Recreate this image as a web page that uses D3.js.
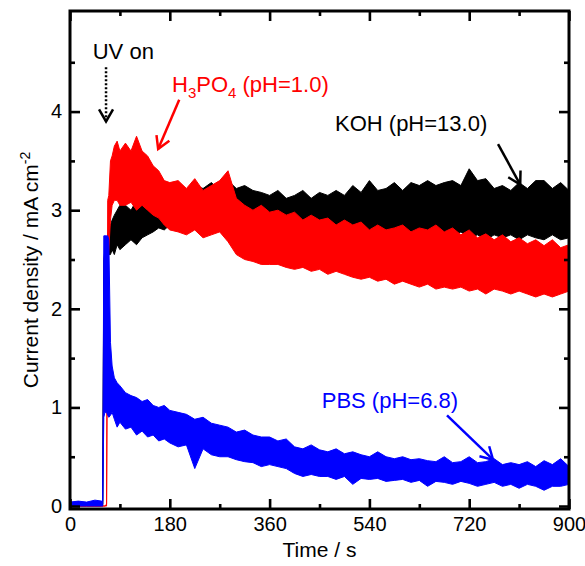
<!DOCTYPE html>
<html>
<head>
<meta charset="utf-8">
<script src="https://cdn.jsdelivr.net/npm/d3@7"></script>
<style>
  body { margin: 0; background: #fff; }
  text { font-family: Arial, "Liberation Sans", sans-serif; }
</style>
</head>
<body>
<div id="chart"></div>
<script>
// time of each sample (s), shared by the three runs
var time = [0, 15, 30, 45, 57, 59, 61, 63, 66, 68, 70, 73, 76, 80, 85, 90,
  100, 110, 120, 130, 140, 150, 160, 170, 180,
  195, 210, 225, 240, 255, 270, 285, 300, 315, 330, 345, 360,
  375, 390, 405, 420, 435, 450, 465, 480, 495, 510, 525, 540,
  555, 570, 585, 600, 615, 630, 645, 660, 675, 690, 705, 720,
  735, 750, 765, 780, 795, 810, 825, 840, 855, 870, 885, 900];

// upper / lower edge of the noisy current band (mA cm-2)
var kohHigh = [0.02, 0.02, 0.02, 0.02, 0.02, 0.02, 2.5, 2.6, 2.7, 2.75, 2.8, 2.85, 2.9, 2.95, 3.0, 3.05,
  3.05, 3.0, 3.1, 3.05, 3.15, 3.1, 3.15, 3.2, 3.15,
  3.2, 3.18, 3.25, 3.22, 3.28, 3.2, 3.3, 3.22, 3.25, 3.2, 3.18, 3.15,
  3.2, 3.12, 3.15, 3.2, 3.12, 3.18, 3.15, 3.2, 3.15, 3.25, 3.18, 3.3,
  3.2, 3.22, 3.28, 3.2, 3.28, 3.25, 3.3, 3.25, 3.28, 3.3, 3.25, 3.42,
  3.3, 3.32, 3.22, 3.25, 3.2, 3.28, 3.22, 3.3, 3.3, 3.22, 3.28, 3.2];
var kohLow = [0, 0, 0, 0, 0, 0, 2.3, 2.4, 2.5, 2.55, 2.55, 2.55, 2.6, 2.55, 2.65, 2.6,
  2.65, 2.7, 2.65, 2.72, 2.75, 2.78, 2.82, 2.8, 2.85,
  2.85, 2.85, 2.85, 2.88, 2.85, 2.85, 2.8, 2.82, 2.8, 2.78, 2.8, 2.75,
  2.78, 2.72, 2.75, 2.72, 2.78, 2.72, 2.75, 2.7, 2.75, 2.72, 2.75, 2.72,
  2.75, 2.7, 2.78, 2.72, 2.75, 2.7, 2.78, 2.72, 2.75, 2.72, 2.78, 2.72,
  2.75, 2.7, 2.75, 2.72, 2.75, 2.7, 2.75, 2.72, 2.7, 2.75, 2.7, 2.72];

var h3po4High = [0, 0, 0, 0, 0, 0, 0, 0, 0.02, 3.1, 3.15, 3.5, 3.55, 3.65, 3.7, 3.6,
  3.68, 3.6, 3.75, 3.6, 3.55, 3.45, 3.4, 3.3, 3.28,
  3.3, 3.22, 3.32, 3.2, 3.25, 3.3, 3.4, 3.12, 3.05, 3.0, 3.05, 2.98,
  3.0, 2.95, 2.98, 2.9, 2.95, 2.9, 2.92, 2.85, 2.9, 2.85, 2.88, 2.8,
  2.85, 2.8, 2.82, 2.85, 2.78, 2.82, 2.8, 2.85, 2.78, 2.82, 2.75, 2.8,
  2.72, 2.76, 2.7, 2.75, 2.68, 2.72, 2.66, 2.7, 2.64, 2.7, 2.62, 2.65];
var h3po4Low = [0, 0, 0, 0, 0, 0, 0, 0, 0, 2.45, 2.6, 2.9, 3.05, 3.1, 3.1, 3.05,
  3.05, 3.08, 3.0, 3.05, 3.0, 2.95, 2.92, 2.85, 2.8,
  2.78, 2.75, 2.8, 2.72, 2.75, 2.78, 2.68, 2.55, 2.5, 2.48, 2.45, 2.45,
  2.45, 2.42, 2.4, 2.42, 2.38, 2.4, 2.35, 2.38, 2.35, 2.32, 2.3, 2.32,
  2.28, 2.3, 2.25, 2.28, 2.25, 2.22, 2.25, 2.2, 2.22, 2.2, 2.22, 2.18,
  2.2, 2.15, 2.2, 2.18, 2.15, 2.18, 2.15, 2.12, 2.15, 2.12, 2.15, 2.18];

var pbsHigh = [0.04, 0.05, 0.04, 0.06, 0.05, 0.05, 2.74, 2.74, 2.74, 2.74, 2.7, 1.66, 1.42, 1.3, 1.25, 1.22,
  1.15, 1.12, 1.1, 1.06, 1.08, 1.02, 1.0, 1.02, 0.97,
  0.95, 0.93, 0.88, 0.9, 0.84, 0.82, 0.8, 0.75, 0.77, 0.72, 0.7, 0.7,
  0.66, 0.68, 0.6, 0.58, 0.62, 0.57, 0.55, 0.58, 0.53, 0.55, 0.52, 0.5,
  0.55, 0.5, 0.48, 0.5, 0.47, 0.48, 0.46, 0.45, 0.5, 0.44, 0.45, 0.5,
  0.44, 0.45, 0.48, 0.42, 0.44, 0.42, 0.45, 0.4, 0.46, 0.42, 0.48, 0.4];
var pbsLow = [0, 0, 0, 0, 0, 0, 0.9, 0.95, 0.95, 0.92, 0.9, 0.92, 0.95, 0.88, 0.8, 0.85,
  0.78, 0.8, 0.72, 0.76, 0.7, 0.72, 0.66, 0.68, 0.64,
  0.6, 0.62, 0.38, 0.58, 0.52, 0.5, 0.5, 0.47, 0.45, 0.44, 0.4, 0.42,
  0.4, 0.38, 0.33, 0.3, 0.32, 0.3, 0.3, 0.27, 0.3, 0.22, 0.28, 0.27,
  0.28, 0.25, 0.26, 0.27, 0.24, 0.26, 0.2, 0.25, 0.24, 0.22, 0.25, 0.23,
  0.2, 0.22, 0.24, 0.2, 0.22, 0.18, 0.22, 0.2, 0.16, 0.2, 0.2, 0.22];

var xTicks = [0, 180, 360, 540, 720, 900];
var xMinor = [90, 270, 450, 630, 810];
var yTicks = [0, 1, 2, 3, 4];
var yMinor = [0.5, 1.5, 2.5, 3.5, 4.5];

function make_chart(){
  var width = 585,
    height = 566;
  var left = 70, right = 569, top = 11, bottom = 509;

  var svg = d3.select("#chart")
    .append("svg")
    .attr("width", width)
    .attr("height", height);

  // scales
  var x = d3.scaleLinear().domain([0, 900]).range([left, right]);
  var y = d3.scaleLinear().domain([-0.03, 5.02]).range([bottom, top]);

  svg.append("clipPath")
    .attr("id", "plotclip")
    .append("rect")
    .attr("x", left).attr("y", top)
    .attr("width", right - left).attr("height", bottom - top);

  // the three bands, black first so red and blue sit on top
  var runs = [
    {high: kohHigh, low: kohLow, color: "#000000"},
    {high: h3po4High, low: h3po4Low, color: "#ff0000"},
    {high: pbsHigh, low: pbsLow, color: "#0000ff"}
  ];

  var area = d3.area()
    .x(function(d) { return x(d.t); })
    .y0(function(d) { return y(d.lo); })
    .y1(function(d) { return y(d.hi); });

  runs.forEach(function(r){
    var pts = time.map(function(t, i){ return {t: t, hi: r.high[i], lo: r.low[i]}; });
    svg.append("path")
      .datum(pts)
      .attr("clip-path", "url(#plotclip)")
      .attr("d", area)
      .style("fill", r.color)
      .style("stroke", r.color)
      .style("stroke-width", 1)
      .style("stroke-linejoin", "miter");
  });

  // axes with inward ticks on all four sides
  function styleAxis(g){
    g.select(".domain").remove();
    g.selectAll("line").style("stroke", "#000").style("stroke-width", 2.6);
    g.selectAll("text").style("font-size", "20px").style("fill", "#000")
      .style("font-family", "Arial, 'Liberation Sans', sans-serif");
  }

  svg.append("g").attr("transform", "translate(0," + bottom + ")")
    .call(d3.axisBottom(x).tickValues(xTicks).tickSizeInner(-10).tickSizeOuter(0).tickPadding(8))
    .call(styleAxis);
  svg.append("g").attr("transform", "translate(0," + bottom + ")")
    .call(d3.axisBottom(x).tickValues(xMinor).tickSizeInner(-5).tickSizeOuter(0).tickFormat(""))
    .call(styleAxis);
  svg.append("g").attr("transform", "translate(0," + top + ")")
    .call(d3.axisTop(x).tickValues(xTicks).tickSizeInner(-10).tickSizeOuter(0).tickFormat(""))
    .call(styleAxis);
  svg.append("g").attr("transform", "translate(0," + top + ")")
    .call(d3.axisTop(x).tickValues(xMinor).tickSizeInner(-5).tickSizeOuter(0).tickFormat(""))
    .call(styleAxis);

  svg.append("g").attr("transform", "translate(" + left + ",0)")
    .call(d3.axisLeft(y).tickValues(yTicks).tickSizeInner(-10).tickSizeOuter(0).tickPadding(8)
      .tickFormat(d3.format("d")))
    .call(styleAxis);
  svg.append("g").attr("transform", "translate(" + left + ",0)")
    .call(d3.axisLeft(y).tickValues(yMinor).tickSizeInner(-5).tickSizeOuter(0).tickFormat(""))
    .call(styleAxis);
  svg.append("g").attr("transform", "translate(" + right + ",0)")
    .call(d3.axisRight(y).tickValues(yTicks).tickSizeInner(-10).tickSizeOuter(0).tickFormat(""))
    .call(styleAxis);
  svg.append("g").attr("transform", "translate(" + right + ",0)")
    .call(d3.axisRight(y).tickValues(yMinor).tickSizeInner(-5).tickSizeOuter(0).tickFormat(""))
    .call(styleAxis);

  // frame
  svg.append("rect")
    .attr("x", left).attr("y", top)
    .attr("width", right - left).attr("height", bottom - top)
    .style("fill", "none")
    .style("stroke", "#000")
    .style("stroke-width", 3);

  // axis titles
  svg.append("text")
    .attr("x", x(450))
    .attr("y", 557)
    .attr("text-anchor", "middle")
    .style("font-size", "21px")
    .text("Time / s");

  var yt = svg.append("text")
    .attr("transform", "translate(38," + 270 + ") rotate(-90)")
    .attr("text-anchor", "middle")
    .style("font-size", "21px");
  yt.append("tspan").text("Current density / mA cm");
  yt.append("tspan").attr("dy", -8).style("font-size", "14px").text("-2");

  // arrows for the annotations
  function drawArrow(x1, y1, x2, y2, color, dashed){
    svg.append("line")
      .attr("x1", x1).attr("y1", y1)
      .attr("x2", x2).attr("y2", y2)
      .style("stroke", color)
      .style("stroke-width", 2.5)
      .style("stroke-dasharray", dashed ? "2,2" : null);
    var ang = Math.atan2(y2 - y1, x2 - x1),
      len = 14,
      spread = Math.PI / 6;
    svg.append("path")
      .attr("d", "M" + (x2 - len * Math.cos(ang - spread)) + "," + (y2 - len * Math.sin(ang - spread)) +
        "L" + x2 + "," + y2 +
        "L" + (x2 - len * Math.cos(ang + spread)) + "," + (y2 - len * Math.sin(ang + spread)))
      .style("fill", "none")
      .style("stroke", color)
      .style("stroke-width", 2.5);
  }

  // UV on
  svg.append("text")
    .attr("x", x(41)).attr("y", y(4.53))
    .style("font-size", "22px")
    .text("UV on");
  drawArrow(x(65), y(4.45), x(65), y(3.9), "#000", true);

  // H3PO4
  var ht = svg.append("text")
    .attr("x", x(184)).attr("y", y(4.2))
    .style("font-size", "22px")
    .style("fill", "#ff0000");
  ht.append("tspan").text("H");
  ht.append("tspan").attr("dy", 6).style("font-size", "15px").text("3");
  ht.append("tspan").attr("dy", -6).text("PO");
  ht.append("tspan").attr("dy", 6).style("font-size", "15px").text("4");
  ht.append("tspan").attr("dy", -6).text(" (pH=1.0)");
  drawArrow(x(197), y(4.12), x(159), y(3.62), "#ff0000", false);

  // KOH
  svg.append("text")
    .attr("x", x(478)).attr("y", y(3.8))
    .style("font-size", "22px")
    .text("KOH (pH=13.0)");
  drawArrow(x(772), y(3.67), x(812), y(3.26), "#000", false);

  // PBS
  svg.append("text")
    .attr("x", x(454)).attr("y", y(0.99))
    .style("font-size", "22px")
    .style("fill", "#0000ff")
    .text("PBS (pH=6.8)");
  drawArrow(x(680), y(0.92), x(763), y(0.47), "#0000ff", false);
}

make_chart();
</script>
</body>
</html>
